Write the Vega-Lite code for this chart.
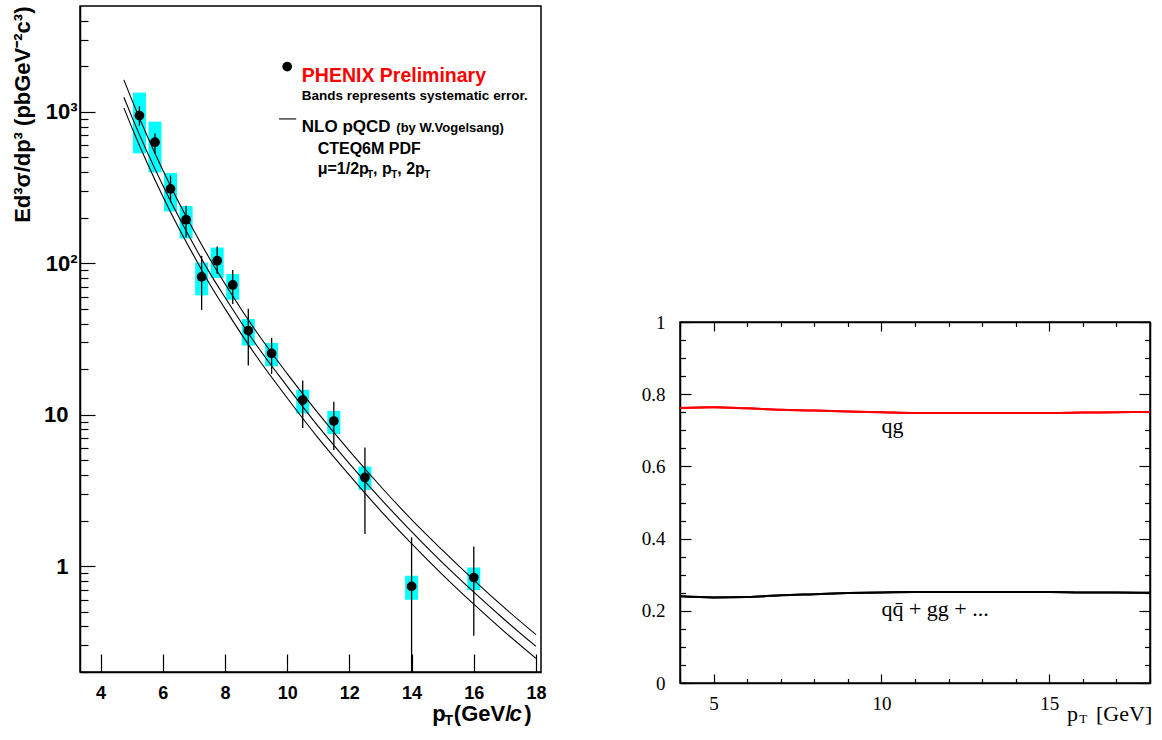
{
  "$schema": "https://vega.github.io/schema/vega-lite/v6.json",
  "background": "white",
  "padding": {"left": 10, "top": 5, "right": 0, "bottom": 0},
  "spacing": 93,
  "datasets": {
    "pts": [
      {"pt": 5.25, "y": 945, "statLo": 811, "statHi": 1087, "sysLo": 532, "sysHi": 1339},
      {"pt": 5.75, "y": 630, "statLo": 530, "statHi": 722, "sysLo": 398, "sysHi": 861},
      {"pt": 6.25, "y": 310, "statLo": 252, "statHi": 380, "sysLo": 220, "sysHi": 395},
      {"pt": 6.75, "y": 194, "statLo": 148, "statHi": 240, "sysLo": 146, "sysHi": 239},
      {"pt": 7.25, "y": 81.3, "statLo": 49.2, "statHi": 112, "sysLo": 61.4, "sysHi": 101},
      {"pt": 7.75, "y": 104, "statLo": 84.9, "statHi": 129, "sysLo": 80, "sysHi": 127},
      {"pt": 8.25, "y": 71.9, "statLo": 53.8, "statHi": 90.4, "sysLo": 57.5, "sysHi": 84.9},
      {"pt": 8.75, "y": 35.9, "statLo": 21.1, "statHi": 50.1, "sysLo": 28.6, "sysHi": 42.9},
      {"pt": 9.5, "y": 25.4, "statLo": 18.6, "statHi": 32.2, "sysLo": 20.9, "sysHi": 29.8},
      {"pt": 10.5, "y": 12.5, "statLo": 8.17, "statHi": 16.8, "sysLo": 10.2, "sysHi": 14.6},
      {"pt": 11.5, "y": 9.08, "statLo": 5.85, "statHi": 12.2, "sysLo": 7.47, "sysHi": 10.6},
      {"pt": 12.5, "y": 3.85, "statLo": 1.63, "statHi": 6.08, "sysLo": 3.19, "sysHi": 4.54},
      {"pt": 14, "y": 0.735, "statLo": 0.2, "statHi": 1.55, "sysLo": 0.6, "sysHi": 0.864},
      {"pt": 16, "y": 0.841, "statLo": 0.347, "statHi": 1.35, "sysLo": 0.695, "sysHi": 0.98}
    ],
    "nlo": [
      {"curve": "mu=pT/2", "pt": 4.75, "v": 1626}, {"curve": "mu=pT/2", "pt": 5, "v": 1208}, {"curve": "mu=pT/2", "pt": 5.5, "v": 692},
      {"curve": "mu=pT/2", "pt": 6, "v": 413}, {"curve": "mu=pT/2", "pt": 6.5, "v": 256}, {"curve": "mu=pT/2", "pt": 7, "v": 164},
      {"curve": "mu=pT/2", "pt": 7.5, "v": 108}, {"curve": "mu=pT/2", "pt": 8, "v": 73.3}, {"curve": "mu=pT/2", "pt": 9, "v": 35.6},
      {"curve": "mu=pT/2", "pt": 10, "v": 18.7}, {"curve": "mu=pT/2", "pt": 11, "v": 10.2}, {"curve": "mu=pT/2", "pt": 12, "v": 5.77},
      {"curve": "mu=pT/2", "pt": 13, "v": 3.37}, {"curve": "mu=pT/2", "pt": 14, "v": 2.03}, {"curve": "mu=pT/2", "pt": 15, "v": 1.27},
      {"curve": "mu=pT/2", "pt": 16, "v": 0.809}, {"curve": "mu=pT/2", "pt": 17, "v": 0.528}, {"curve": "mu=pT/2", "pt": 18, "v": 0.353},
      {"curve": "mu=pT", "pt": 4.75, "v": 1247}, {"curve": "mu=pT", "pt": 5, "v": 933}, {"curve": "mu=pT", "pt": 5.5, "v": 542},
      {"curve": "mu=pT", "pt": 6, "v": 328}, {"curve": "mu=pT", "pt": 6.5, "v": 205}, {"curve": "mu=pT", "pt": 7, "v": 132},
      {"curve": "mu=pT", "pt": 7.5, "v": 87.1}, {"curve": "mu=pT", "pt": 8, "v": 59.6}, {"curve": "mu=pT", "pt": 9, "v": 29.1},
      {"curve": "mu=pT", "pt": 10, "v": 15.4}, {"curve": "mu=pT", "pt": 11, "v": 8.37}, {"curve": "mu=pT", "pt": 12, "v": 4.76},
      {"curve": "mu=pT", "pt": 13, "v": 2.79}, {"curve": "mu=pT", "pt": 14, "v": 1.69}, {"curve": "mu=pT", "pt": 15, "v": 1.05},
      {"curve": "mu=pT", "pt": 16, "v": 0.673}, {"curve": "mu=pT", "pt": 17, "v": 0.441}, {"curve": "mu=pT", "pt": 18, "v": 0.295},
      {"curve": "mu=2pT", "pt": 4.75, "v": 1062}, {"curve": "mu=2pT", "pt": 5, "v": 793}, {"curve": "mu=2pT", "pt": 5.5, "v": 459},
      {"curve": "mu=2pT", "pt": 6, "v": 277}, {"curve": "mu=2pT", "pt": 6.5, "v": 173}, {"curve": "mu=2pT", "pt": 7, "v": 112},
      {"curve": "mu=2pT", "pt": 7.5, "v": 73.6}, {"curve": "mu=2pT", "pt": 8, "v": 50.2}, {"curve": "mu=2pT", "pt": 9, "v": 24.5},
      {"curve": "mu=2pT", "pt": 10, "v": 12.9}, {"curve": "mu=2pT", "pt": 11, "v": 7.01}, {"curve": "mu=2pT", "pt": 12, "v": 3.99},
      {"curve": "mu=2pT", "pt": 13, "v": 2.33}, {"curve": "mu=2pT", "pt": 14, "v": 1.41}, {"curve": "mu=2pT", "pt": 15, "v": 0.877},
      {"curve": "mu=2pT", "pt": 16, "v": 0.561}, {"curve": "mu=2pT", "pt": 17, "v": 0.367}, {"curve": "mu=2pT", "pt": 18, "v": 0.246}
    ],
    "frac": [
      {"proc": "qg", "pt": 4, "f": 0.762}, {"proc": "qg", "pt": 5, "f": 0.764}, {"proc": "qg", "pt": 6, "f": 0.761},
      {"proc": "qg", "pt": 7, "f": 0.757}, {"proc": "qg", "pt": 8, "f": 0.755}, {"proc": "qg", "pt": 9, "f": 0.752},
      {"proc": "qg", "pt": 10, "f": 0.75}, {"proc": "qg", "pt": 11, "f": 0.748}, {"proc": "qg", "pt": 12, "f": 0.748},
      {"proc": "qg", "pt": 13, "f": 0.748}, {"proc": "qg", "pt": 14, "f": 0.748}, {"proc": "qg", "pt": 15, "f": 0.748},
      {"proc": "qg", "pt": 16, "f": 0.749}, {"proc": "qg", "pt": 17, "f": 0.75}, {"proc": "qg", "pt": 18, "f": 0.751},
      {"proc": "other", "pt": 4, "f": 0.24}, {"proc": "other", "pt": 5, "f": 0.237}, {"proc": "other", "pt": 6, "f": 0.238},
      {"proc": "other", "pt": 7, "f": 0.243}, {"proc": "other", "pt": 8, "f": 0.246}, {"proc": "other", "pt": 9, "f": 0.249},
      {"proc": "other", "pt": 10, "f": 0.251}, {"proc": "other", "pt": 11, "f": 0.252}, {"proc": "other", "pt": 12, "f": 0.252},
      {"proc": "other", "pt": 13, "f": 0.252}, {"proc": "other", "pt": 14, "f": 0.252}, {"proc": "other", "pt": 15, "f": 0.252},
      {"proc": "other", "pt": 16, "f": 0.251}, {"proc": "other", "pt": 17, "f": 0.251}, {"proc": "other", "pt": 18, "f": 0.25}
    ]
  },
  "hconcat": [
    {
      "width": 461,
      "height": 666,
      "view": {"stroke": "black", "strokeWidth": 1.5},
      "layer": [
        {
          "data": {"name": "pts"},
          "mark": {"type": "bar", "size": 13, "color": "#00ffff"},
          "encoding": {
            "x": {"field": "pt", "type": "quantitative",
              "scale": {"domain": [3.5, 18], "nice": false, "zero": false},
              "axis": {
                "title": null,
                "values": [4, 4.5, 5, 5.5, 6, 6.5, 7, 7.5, 8, 8.5, 9, 9.5, 10, 10.5, 11, 11.5, 12, 12.5, 13, 13.5, 14, 14.5, 15, 15.5, 16, 16.5, 17, 17.5, 18],
                "format": "~g",
                "labelExpr": "datum.value % 2 == 0 ? datum.label : ''",
                "tickSize": {"condition": {"test": "datum.value % 2 == 0", "value": -18}, "value": -9},
                "tickWidth": 1.2,
                "labelPadding": 30,
                "labelFont": "Liberation Sans",
                "labelFontWeight": "bold",
                "labelFontSize": 18,
                "labelOverlap": false,
                "labelFlush": false
              }
            },
            "y": {"field": "sysLo", "type": "quantitative",
              "scale": {"type": "log", "domain": [0.2, 5000], "nice": false},
              "axis": {
                "title": "Ed³σ/dp³ (pbGeV⁻²c³)",
                "titleFont": "Liberation Sans",
                "titleFontWeight": "bold",
                "titleFontSize": 22,
                "titleAnchor": "end",
                "titlePadding": 9,
                "values": [0.2, 0.3, 0.4, 0.5, 0.6, 0.7, 0.8, 0.9, 1, 2, 3, 4, 5, 6, 7, 8, 9, 10, 20, 30, 40, 50, 60, 70, 80, 90, 100, 200, 300, 400, 500, 600, 700, 800, 900, 1000, 2000, 3000, 4000],
                "labelExpr": "datum.value == 1000 ? '10³' : datum.value == 100 ? '10²' : datum.value == 10 ? '10' : datum.value == 1 ? '1' : ''",
                "tickSize": {"condition": {"test": "datum.value == 1 || datum.value == 10 || datum.value == 100 || datum.value == 1000", "value": -15}, "value": -8},
                "tickWidth": 1.2,
                "labelPadding": {"condition": {"test": "datum.value >= 100", "value": 18}, "value": 27},
                "labelFont": "Liberation Sans",
                "labelFontWeight": "bold",
                "labelFontSize": 22,
                "labelOverlap": false,
                "labelFlush": false
              }
            },
            "y2": {"field": "sysHi"}
          }
        },
        {
          "data": {"name": "nlo"},
          "mark": {"type": "line", "color": "black", "strokeWidth": 1.1, "interpolate": "monotone"},
          "encoding": {
            "x": {"field": "pt", "type": "quantitative", "scale": {"domain": [3.5, 18], "nice": false, "zero": false}},
            "y": {"field": "v", "type": "quantitative", "scale": {"type": "log", "domain": [0.2, 5000], "nice": false}},
            "detail": {"field": "curve"}
          }
        },
        {
          "data": {"name": "pts"},
          "mark": {"type": "rule", "color": "black", "strokeWidth": 1.3},
          "encoding": {
            "x": {"field": "pt", "type": "quantitative", "scale": {"domain": [3.5, 18], "nice": false, "zero": false}},
            "y": {"field": "statLo", "type": "quantitative", "scale": {"type": "log", "domain": [0.2, 5000], "nice": false}},
            "y2": {"field": "statHi"}
          }
        },
        {
          "data": {"name": "pts"},
          "mark": {"type": "point", "filled": true, "color": "black", "opacity": 1, "size": 95},
          "encoding": {
            "x": {"field": "pt", "type": "quantitative", "scale": {"domain": [3.5, 18], "nice": false, "zero": false}},
            "y": {"field": "y", "type": "quantitative", "scale": {"type": "log", "domain": [0.2, 5000], "nice": false}}
          }
        },
        {
          "data": {"values": [{"pt": 10.0, "v": 1990}]},
          "mark": {"type": "point", "filled": true, "color": "black", "opacity": 1, "size": 95},
          "encoding": {
            "x": {"field": "pt", "type": "quantitative", "scale": {"domain": [3.5, 18], "nice": false, "zero": false}},
            "y": {"field": "v", "type": "quantitative", "scale": {"type": "log", "domain": [0.2, 5000], "nice": false}}
          }
        },
        {
          "data": {"values": [{"x1": 9.74, "x2": 10.29, "v": 898}]},
          "mark": {"type": "rule", "color": "black", "strokeWidth": 1.1},
          "encoding": {
            "x": {"field": "x1", "type": "quantitative", "scale": {"domain": [3.5, 18], "nice": false, "zero": false}},
            "x2": {"field": "x2"},
            "y": {"field": "v", "type": "quantitative", "scale": {"type": "log", "domain": [0.2, 5000], "nice": false}}
          }
        },
        {
          "data": {"values": [{"pt": 10.47, "v": 1567, "t": "PHENIX Preliminary"}]},
          "mark": {"type": "text", "align": "left", "baseline": "alphabetic", "font": "Liberation Sans", "fontWeight": "bold", "fontSize": 19.5, "color": "#ff0000"},
          "encoding": {
            "x": {"field": "pt", "type": "quantitative", "scale": {"domain": [3.5, 18], "nice": false, "zero": false}},
            "y": {"field": "v", "type": "quantitative", "scale": {"type": "log", "domain": [0.2, 5000], "nice": false}},
            "text": {"field": "t"}
          }
        },
        {
          "data": {"values": [{"pt": 10.47, "v": 1198, "t": "Bands represents systematic error."}]},
          "mark": {"type": "text", "align": "left", "baseline": "alphabetic", "font": "Liberation Sans", "fontWeight": "bold", "fontSize": 13.5, "color": "black"},
          "encoding": {
            "x": {"field": "pt", "type": "quantitative", "scale": {"domain": [3.5, 18], "nice": false, "zero": false}},
            "y": {"field": "v", "type": "quantitative", "scale": {"type": "log", "domain": [0.2, 5000], "nice": false}},
            "text": {"field": "t"}
          }
        },
        {
          "data": {"values": [{"pt": 10.47, "v": 740, "t": "NLO pQCD"}]},
          "mark": {"type": "text", "align": "left", "baseline": "alphabetic", "font": "Liberation Sans", "fontWeight": "bold", "fontSize": 17, "color": "black"},
          "encoding": {
            "x": {"field": "pt", "type": "quantitative", "scale": {"domain": [3.5, 18], "nice": false, "zero": false}},
            "y": {"field": "v", "type": "quantitative", "scale": {"type": "log", "domain": [0.2, 5000], "nice": false}},
            "text": {"field": "t"}
          }
        },
        {
          "data": {"values": [{"pt": 13.51, "v": 740, "t": "(by W.Vogelsang)"}]},
          "mark": {"type": "text", "align": "left", "baseline": "alphabetic", "font": "Liberation Sans", "fontWeight": "bold", "fontSize": 13, "color": "black"},
          "encoding": {
            "x": {"field": "pt", "type": "quantitative", "scale": {"domain": [3.5, 18], "nice": false, "zero": false}},
            "y": {"field": "v", "type": "quantitative", "scale": {"type": "log", "domain": [0.2, 5000], "nice": false}},
            "text": {"field": "t"}
          }
        },
        {
          "data": {"values": [
            {"pt": 10.98, "v": 527, "t": "CTEQ6M PDF"},
            {"pt": 10.98, "v": 389, "t": "μ=1/2p"},
            {"pt": 12.761, "v": 389, "t": ", p"},
            {"pt": 13.541, "v": 389, "t": ", 2p"}
          ]},
          "mark": {"type": "text", "align": "left", "baseline": "alphabetic", "font": "Liberation Sans", "fontWeight": "bold", "fontSize": 16, "color": "black"},
          "encoding": {
            "x": {"field": "pt", "type": "quantitative", "scale": {"domain": [3.5, 18], "nice": false, "zero": false}},
            "y": {"field": "v", "type": "quantitative", "scale": {"type": "log", "domain": [0.2, 5000], "nice": false}},
            "text": {"field": "t"}
          }
        },
        {
          "data": {"values": [
            {"pt": 12.569, "v": 364, "t": "T"},
            {"pt": 13.349, "v": 364, "t": "T"},
            {"pt": 14.409, "v": 364, "t": "T"}
          ]},
          "mark": {"type": "text", "align": "left", "baseline": "alphabetic", "font": "Liberation Sans", "fontWeight": "bold", "fontSize": 10, "color": "black"},
          "encoding": {
            "x": {"field": "pt", "type": "quantitative", "scale": {"domain": [3.5, 18], "nice": false, "zero": false}},
            "y": {"field": "v", "type": "quantitative", "scale": {"type": "log", "domain": [0.2, 5000], "nice": false}},
            "text": {"field": "t"}
          }
        },
        {
          "data": {"values": [
            {"pt": 14.667, "v": 0.0953, "t": "p"},
            {"pt": 15.359, "v": 0.0953, "t": "(GeV/"},
            {"pt": 17.624, "v": 0.0953, "t": ")"}
          ]},
          "mark": {"type": "text", "align": "left", "baseline": "alphabetic", "font": "Liberation Sans", "fontWeight": "bold", "fontSize": 22, "color": "black"},
          "encoding": {
            "x": {"field": "pt", "type": "quantitative", "scale": {"domain": [3.5, 18], "nice": false, "zero": false}},
            "y": {"field": "v", "type": "quantitative", "scale": {"type": "log", "domain": [0.2, 5000], "nice": false}},
            "text": {"field": "t"}
          }
        },
        {
          "data": {"values": [{"pt": 17.152, "v": 0.0953, "t": "c"}]},
          "mark": {"type": "text", "align": "left", "baseline": "alphabetic", "font": "Liberation Sans", "fontWeight": "bold", "fontStyle": "italic", "fontSize": 22, "color": "black"},
          "encoding": {
            "x": {"field": "pt", "type": "quantitative", "scale": {"domain": [3.5, 18], "nice": false, "zero": false}},
            "y": {"field": "v", "type": "quantitative", "scale": {"type": "log", "domain": [0.2, 5000], "nice": false}},
            "text": {"field": "t"}
          }
        },
        {
          "data": {"values": [{"pt": 15.06, "v": 0.0896, "t": "T"}]},
          "mark": {"type": "text", "align": "left", "baseline": "alphabetic", "font": "Liberation Sans", "fontWeight": "bold", "fontSize": 14, "color": "black"},
          "encoding": {
            "x": {"field": "pt", "type": "quantitative", "scale": {"domain": [3.5, 18], "nice": false, "zero": false}},
            "y": {"field": "v", "type": "quantitative", "scale": {"type": "log", "domain": [0.2, 5000], "nice": false}},
            "text": {"field": "t"}
          }
        }
      ]
    },
    {
      "spacing": 0,
      "vconcat": [
        {
          "width": 20,
          "height": 306,
          "view": {"stroke": null, "fill": "white"},
          "data": {"values": []},
          "mark": "point"
        },
        {
          "width": 470,
          "height": 361,
          "view": {"stroke": "black", "strokeWidth": 1.5},
          "resolve": {"axis": {"x": "independent", "y": "independent"}},
          "layer": [
            {
              "data": {"name": "frac"},
              "mark": {"type": "line", "strokeWidth": 2, "interpolate": "monotone"},
              "encoding": {
                "x": {"field": "pt", "type": "quantitative",
                  "scale": {"domain": [4, 18], "nice": false, "zero": false},
                  "axis": {
                    "orient": "bottom",
                    "title": null,
                    "values": [4, 5, 6, 7, 8, 9, 10, 11, 12, 13, 14, 15, 16, 17, 18],
                    "labelExpr": "datum.value % 5 == 0 ? datum.label : ''",
                    "tickSize": {"condition": {"test": "datum.value % 5 == 0", "value": -9}, "value": -4.5},
                    "tickWidth": 1.2,
                    "labelPadding": 20,
                    "labelFont": "Liberation Serif",
                    "labelFontSize": 19,
                    "labelOverlap": false,
                    "labelFlush": false
                  }
                },
                "y": {"field": "f", "type": "quantitative",
                  "scale": {"domain": [0, 1], "nice": false, "zero": false},
                  "axis": {
                    "orient": "left",
                    "title": null,
                    "values": [0, 0.05, 0.1, 0.15, 0.2, 0.25, 0.3, 0.35, 0.4, 0.45, 0.5, 0.55, 0.6, 0.65, 0.7, 0.75, 0.8, 0.85, 0.9, 0.95, 1],
                    "format": "~g",
                    "labelExpr": "abs(datum.value * 5 - round(datum.value * 5)) < 0.001 ? datum.label : ''",
                    "tickSize": {"condition": {"test": "abs(datum.value * 5 - round(datum.value * 5)) < 0.001", "value": -11}, "value": -5.5},
                    "tickWidth": 1.2,
                    "labelPadding": 26,
                    "labelFont": "Liberation Serif",
                    "labelFontSize": 19,
                    "labelOverlap": false,
                    "labelFlush": false
                  }
                },
                "color": {"field": "proc", "type": "nominal", "scale": {"domain": ["qg", "other"], "range": ["#ff0000", "#000000"]}, "legend": null}
              }
            },
            {
              "data": {"name": "frac"},
              "mark": {"type": "line", "strokeWidth": 2, "interpolate": "monotone"},
              "encoding": {
                "x": {"field": "pt", "type": "quantitative",
                  "scale": {"domain": [4, 18], "nice": false, "zero": false},
                  "axis": {
                    "orient": "top",
                    "title": null,
                    "labels": false,
                    "values": [4, 5, 6, 7, 8, 9, 10, 11, 12, 13, 14, 15, 16, 17, 18],
                    "tickSize": {"condition": {"test": "datum.value % 5 == 0", "value": -9}, "value": -4.5},
                    "tickWidth": 1.2
                  }
                },
                "y": {"field": "f", "type": "quantitative",
                  "scale": {"domain": [0, 1], "nice": false, "zero": false},
                  "axis": {
                    "orient": "right",
                    "title": null,
                    "labels": false,
                    "values": [0, 0.05, 0.1, 0.15, 0.2, 0.25, 0.3, 0.35, 0.4, 0.45, 0.5, 0.55, 0.6, 0.65, 0.7, 0.75, 0.8, 0.85, 0.9, 0.95, 1],
                    "tickSize": {"condition": {"test": "abs(datum.value * 5 - round(datum.value * 5)) < 0.001", "value": -11}, "value": -5.5},
                    "tickWidth": 1.2
                  }
                },
                "color": {"field": "proc", "type": "nominal", "scale": {"domain": ["qg", "other"], "range": ["#ff0000", "#000000"]}, "legend": null}
              }
            },
            {
              "data": {"values": [
                {"pt": 10.0, "f": 0.693, "t": "qg"},
                {"pt": 10.0, "f": 0.1854, "t": "qq̄ + gg + ..."},
                {"pt": 15.525, "f": -0.1052, "t": "p"},
                {"pt": 16.392, "f": -0.1052, "t": "[GeV]"}
              ]},
              "mark": {"type": "text", "align": "left", "baseline": "alphabetic", "font": "Liberation Serif", "fontSize": 22, "color": "black"},
              "encoding": {
                "x": {"field": "pt", "type": "quantitative", "scale": {"domain": [4, 18], "nice": false, "zero": false}, "axis": null},
                "y": {"field": "f", "type": "quantitative", "scale": {"domain": [0, 1], "nice": false, "zero": false}, "axis": null},
                "text": {"field": "t"}
              }
            },
            {
              "data": {"values": [{"pt": 15.894, "f": -0.11, "t": "T"}]},
              "mark": {"type": "text", "align": "left", "baseline": "alphabetic", "font": "Liberation Serif", "fontSize": 13, "color": "black"},
              "encoding": {
                "x": {"field": "pt", "type": "quantitative", "scale": {"domain": [4, 18], "nice": false, "zero": false}, "axis": null},
                "y": {"field": "f", "type": "quantitative", "scale": {"domain": [0, 1], "nice": false, "zero": false}, "axis": null},
                "text": {"field": "t"}
              }
            }
          ]
        }
      ]
    }
  ],
  "config": {
    "view": {"stroke": "black", "strokeWidth": 1.5},
    "axis": {"grid": false, "domainColor": "black", "domainWidth": 1.5, "tickColor": "black", "labelColor": "black", "titleColor": "black"}
  }
}
